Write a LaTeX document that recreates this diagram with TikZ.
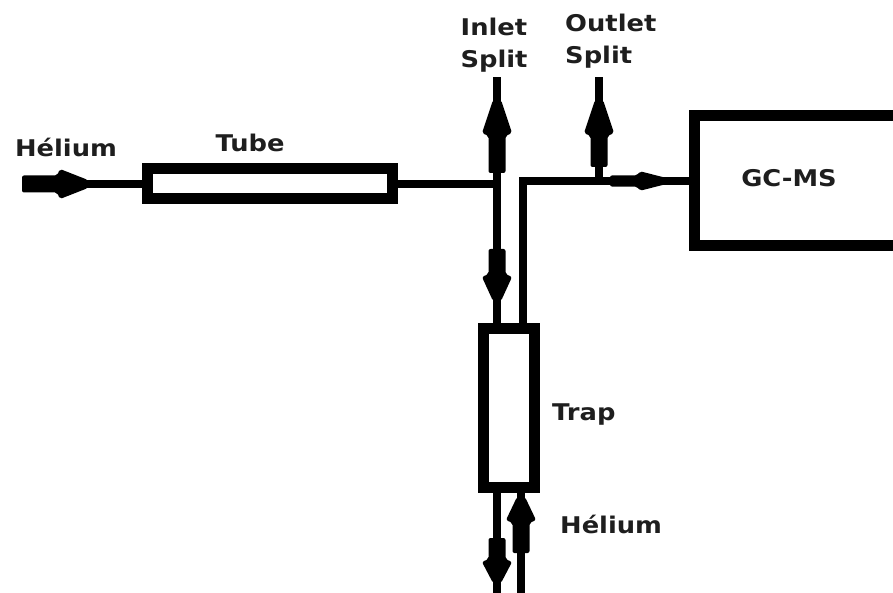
\documentclass[tikz,border=0pt]{standalone}
\usepackage{fontspec}
\usetikzlibrary{decorations.markings}
\newfontfamily\lblfont[FakeStretch=1.12]{DejaVu Sans}
\definecolor{lblgray}{HTML}{1E1E1E}
% flow mark: shaft length, head length, width factor
\newcommand\flowtip[3]{\fill[yscale=#3,rounded corners=2pt] (-#1,-8.5) -- (-3,-8.5) -- (0,-15) -- (#2,-4) -- (#2,4) -- (0,15) -- (-3,8.5) -- (-#1,8.5) -- cycle;}

\begin{document}
\begin{tikzpicture}[x=1pt,y=-1pt,
  pipe/.style={line width=8pt},
  vessel/.style={draw,line width=11pt,inner sep=0pt},
  lbl/.style={font=\lblfont\bfseries\fontsize{23}{32}\selectfont,text=lblgray,inner sep=0pt},
  flow/.style n args={4}{postaction={decorate,decoration={markings,mark=at position #1 with {\flowtip{#2}{#3}{#4}}}}}]
  \useasboundingbox (0,0) rectangle (893,593);
  \clip (0,0) rectangle (893,593);

  % vessels
  \node[vessel,minimum width=245pt,minimum height=30pt] (tube) at (269.5,184) {};
  \node[vessel,minimum width=51pt,minimum height=159pt] (trap) at (509,408) {};
  \node[vessel,minimum width=300pt,minimum height=130pt,anchor=west] (gcms) at (688.5,181) {};

  % pipe ends and junctions
  \coordinate (hein) at (22,184);
  \coordinate (j1) at (497,184);
  \coordinate (isplit) at (497,77);
  \coordinate (tcorner) at (523,181);
  \coordinate (j2) at (599,181);
  \coordinate (osplit) at (599,77);
  \coordinate (outl) at (497,600);
  \coordinate (inl) at (521,600);

  % pipes
  \draw[pipe,flow={38pt}{38}{28}{1}] (hein) -- (tube.west);
  \draw[pipe] (tube.east) -- (j1);
  \draw[pipe,flow={51pt}{40}{33}{1}] (j1) -- (isplit);
  \draw[pipe,flow={93pt}{28}{24}{1}] (j1) -- (trap.north -| j1);
  \draw[pipe] (trap.north -| tcorner) -- (tcorner) -- (j2);
  \draw[pipe,flow={48pt}{34}{33}{1}] (j2) -- (osplit);
  \draw[pipe,flow={41pt}{30}{28}{0.65}] (j2) -- (gcms.west);
  \draw[pipe,flow={69pt}{24}{21}{1}] (trap.south -| j1) -- (outl);
  \draw[pipe,flow={80pt}{33}{23}{1}] (inl) -- (trap.south -| inl);

  % labels
  \node[lbl,anchor=base] (helin) at (66,157) {Hélium};
  \node[lbl,anchor=base] (tubelbl) at (250,152) {Tube};
  \node[lbl,anchor=north,align=center] (inlbl) at (494,18) {Inlet\\Split};
  \node[lbl,anchor=north west,align=left] (outlbl) at (565,14) {Outlet\\Split};
  \node[lbl,anchor=base] (gcmslbl) at (789,187) {GC-MS};
  \node[lbl,anchor=base west] (traplbl) at (552,420) {Trap};
  \node[lbl,anchor=base west] (helout) at (560,533) {Hélium};
\end{tikzpicture}
\end{document}
